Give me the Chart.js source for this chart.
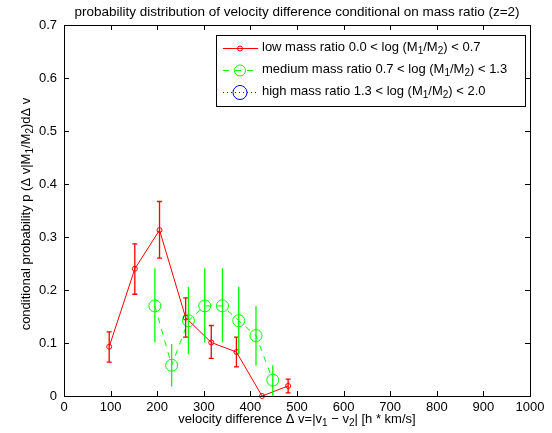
<!DOCTYPE html>
<html>
<head>
<meta charset="utf-8">
<script src="https://cdn.jsdelivr.net/npm/chart.js@4"></script>
<style>
  html, body { margin: 0; padding: 0; background: #fff; }
  #wrap { width: 552px; height: 433px; }
</style>
</head>
<body>
<div id="wrap"><canvas id="chart" width="552" height="433"></canvas></div>
<script>
// data
const lowX = [97, 152, 205, 261, 316, 370, 425, 481];
const lowY = [0.093, 0.240, 0.313, 0.148, 0.101, 0.083, 0.000, 0.019];
const lowHi = [0.121, 0.287, 0.367, 0.185, 0.133, 0.111, 0.000, 0.032];
const lowLo = [0.064, 0.192, 0.260, 0.111, 0.071, 0.055, 0.000, 0.006];

const medX = [195, 231, 267, 302, 340, 375, 412, 448];
const medY = [0.170, 0.058, 0.142, 0.170, 0.170, 0.142, 0.114, 0.030];
const medHi = [0.241, 0.098, 0.206, 0.241, 0.241, 0.206, 0.170, 0.058];
const medLo = [0.101, 0.018, 0.079, 0.101, 0.101, 0.079, 0.057, 0.000];

const highX = [];
const highY = [];

const xTicks = [0, 100, 200, 300, 400, 500, 600, 700, 800, 900, 1000];
const yTicks = [0, 0.1, 0.2, 0.3, 0.4, 0.5, 0.6, 0.7];

const legendLabels = [
  [['low mass ratio 0.0 < log (M'], ['1', 1], ['/M'], ['2', 1], [') < 0.7']],
  [['medium mass ratio 0.7 < log (M'], ['1', 1], ['/M'], ['2', 1], [') < 1.3']],
  [['high mass ratio 1.3 < log (M'], ['1', 1], ['/M'], ['2', 1], [') < 2.0']]
];

const FONT = '"Liberation Sans", Arial, Helvetica, sans-serif';

function pts(xs, ys) {
  return xs.map((x, i) => ({ x: x, y: ys[i] }));
}

// text with subscripts
function richWidth(ctx, parts, size) {
  let w = 0;
  parts.forEach(p => {
    ctx.font = (p[1] ? size - 3 : size) + 'px ' + FONT;
    w += ctx.measureText(p[0]).width;
  });
  return w;
}
function drawRich(ctx, parts, x, y, size) {
  parts.forEach(p => {
    ctx.font = (p[1] ? size - 3 : size) + 'px ' + FONT;
    ctx.fillText(p[0], x, y + (p[1] ? 4 : 0));
    x += ctx.measureText(p[0]).width;
  });
}

const errorBars = {
  id: 'errorBars',
  afterDatasetsDraw(chart) {
    const ctx = chart.ctx;
    const xs = chart.scales.x, ys = chart.scales.y;
    const sets = [
      { x: lowX, hi: lowHi, lo: lowLo, color: '#ff0000', cap: 2.5, w: 1.3 },
      { x: medX, hi: medHi, lo: medLo, color: '#00ff00', cap: 0, w: 1.3 }
    ];
    ctx.save();
    sets.forEach(s => {
      ctx.strokeStyle = s.color;
      ctx.lineWidth = s.w;
      s.x.forEach((xv, i) => {
        if (s.hi[i] === s.lo[i]) return;
        const px = xs.getPixelForValue(xv);
        const top = ys.getPixelForValue(s.hi[i]);
        const bot = ys.getPixelForValue(s.lo[i]);
        ctx.beginPath();
        ctx.moveTo(px, top);
        ctx.lineTo(px, bot);
        if (s.cap > 0) {
          ctx.moveTo(px - s.cap, top); ctx.lineTo(px + s.cap, top);
          ctx.moveTo(px - s.cap, bot); ctx.lineTo(px + s.cap, bot);
        }
        ctx.stroke();
      });
    });
    ctx.restore();
  }
};

const matlabFrame = {
  id: 'matlabFrame',
  afterDraw(chart) {
    const ctx = chart.ctx;
    const a = chart.chartArea;
    const xs = chart.scales.x, ys = chart.scales.y;
    ctx.save();
    ctx.strokeStyle = '#000';
    ctx.lineWidth = 1;
    ctx.strokeRect(a.left + 0.5, a.top + 0.5, a.right - a.left, a.bottom - a.top);
    ctx.beginPath();
    xTicks.forEach(v => {
      const px = Math.round(xs.getPixelForValue(v)) + 0.5;
      ctx.moveTo(px, a.bottom); ctx.lineTo(px, a.bottom - 5);
      ctx.moveTo(px, a.top); ctx.lineTo(px, a.top + 5);
    });
    yTicks.forEach(v => {
      const py = Math.round(ys.getPixelForValue(v)) + 0.5;
      ctx.moveTo(a.left, py); ctx.lineTo(a.left + 5, py);
      ctx.moveTo(a.right, py); ctx.lineTo(a.right - 5, py);
    });
    ctx.stroke();

    // titles
    ctx.fillStyle = '#000';
    ctx.textBaseline = 'middle';
    ctx.textAlign = 'center';
    ctx.font = '13.5px ' + FONT;
    ctx.fillText('probability distribution of velocity difference conditional on mass ratio (z=2)', (a.left + a.right) / 2, 12);

    ctx.textAlign = 'left';
    const xt = [['velocity difference \u0394 v=|v'], ['1', 1], [' \u2212 v'], ['2', 1], ['| [h * km/s]']];
    const xw = richWidth(ctx, xt, 13);
    drawRich(ctx, xt, (a.left + a.right) / 2 - xw / 2, 419, 13);

    const yt = [['conditional probability p (\u0394 v|M'], ['1', 1], ['/M'], ['2', 1], [')d\u0394 v']];
    const yw = richWidth(ctx, yt, 13);
    ctx.translate(26, 214);
    ctx.rotate(-Math.PI / 2);
    drawRich(ctx, yt, -yw / 2, 0, 13);
    ctx.restore();

    // legend box
    ctx.save();
    const lx = 216, ly = 35, lw = 309, lh = 71;
    ctx.fillStyle = '#fff';
    ctx.fillRect(lx, ly, lw, lh);
    ctx.strokeStyle = '#000';
    ctx.lineWidth = 1;
    ctx.strokeRect(lx + 0.5, ly + 0.5, lw, lh);
    const rows = [48, 70, 92];
    const styles = [
      { color: '#ff0000', dash: [], r: 2.5 },
      { color: '#00ff00', dash: [6, 6], r: 5.5 },
      { color: '#0000ff', dash: [1, 3], r: 7 }
    ];
    rows.forEach((ry, i) => {
      const s = styles[i];
      ctx.strokeStyle = s.color;
      ctx.lineWidth = 1;
      ctx.setLineDash(s.dash);
      ctx.beginPath();
      ctx.moveTo(223, ry + 0.5); ctx.lineTo(258, ry + 0.5);
      ctx.stroke();
      ctx.setLineDash([]);
      ctx.beginPath();
      ctx.arc(240, ry + 0.5, s.r, 0, Math.PI * 2);
      ctx.stroke();
      ctx.fillStyle = '#000';
      ctx.textAlign = 'left';
      ctx.textBaseline = 'middle';
      drawRich(ctx, legendLabels[i], 262, ry - 1, 13);
    });
    ctx.restore();
  }
};

new Chart(document.getElementById('chart'), {
  type: 'line',
  data: {
    datasets: [
      {
        label: 'low',
        data: pts(lowX, lowY),
        borderColor: '#ff0000',
        backgroundColor: 'transparent',
        borderWidth: 1,
        pointRadius: 2.5,
        pointBorderWidth: 1,
        pointBorderColor: '#ff0000',
        tension: 0,
        clip: false
      },
      {
        label: 'medium',
        data: pts(medX, medY),
        borderColor: '#00ff00',
        backgroundColor: 'transparent',
        borderWidth: 1,
        borderDash: [6, 6],
        pointRadius: 6,
        pointBorderWidth: 1,
        pointBorderColor: '#00ff00',
        tension: 0,
        clip: false
      },
      {
        label: 'high',
        data: pts(highX, highY),
        borderColor: '#0000ff',
        backgroundColor: 'transparent',
        borderWidth: 1,
        borderDash: [1, 3],
        pointRadius: 7
      }
    ]
  },
  options: {
    responsive: false,
    animation: false,
    layout: { padding: { top: 25, right: 22, left: 0, bottom: 0 } },
    plugins: {
      legend: { display: false },
      tooltip: { enabled: false },
      title: { display: false }
    },
    scales: {
      x: {
        type: 'linear',
        min: 0,
        max: 1000,
        afterFit(scale) { scale.height = 37; },
        afterBuildTicks(scale) { scale.ticks = xTicks.map(v => ({ value: v })); },
        grid: { display: false, drawTicks: false },
        border: { display: false },
        ticks: {
          color: '#000',
          font: { family: FONT, size: 13 },
          padding: 4,
          maxRotation: 0,
          callback: v => String(v)
        }
      },
      y: {
        min: 0,
        max: 0.7,
        afterFit(scale) { scale.width = 64; },
        afterBuildTicks(scale) { scale.ticks = yTicks.map(v => ({ value: v })); },
        grid: { display: false, drawTicks: false },
        border: { display: false },
        ticks: {
          color: '#000',
          font: { family: FONT, size: 13 },
          padding: 7,
          callback: v => String(+v.toFixed(1))
        }
      }
    }
  },
  plugins: [errorBars, matlabFrame]
});
</script>
</body>
</html>
